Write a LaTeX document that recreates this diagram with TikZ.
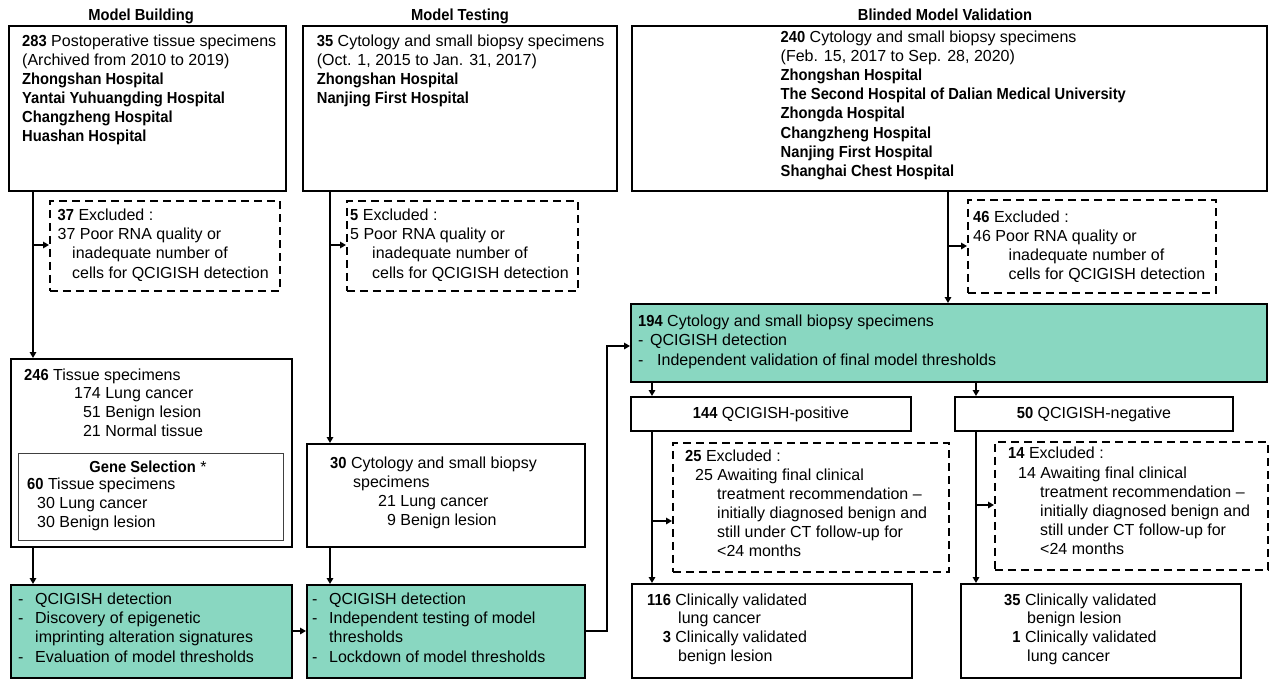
\documentclass[tikz,border=0pt]{standalone}
\usepackage{fontspec}
\setmainfont{Liberation Sans}[BoldFeatures={FakeStretch=0.92}]
\usetikzlibrary{arrows.meta}
\definecolor{mint}{RGB}{137,215,193}
\newcommand\tstr{\rule{0pt}{14pt}}
\begin{document}
\begin{tikzpicture}[x=1pt,y=-1pt,
  every node/.style={font=\fontsize{16}{19}\selectfont},
  box/.style={draw, line width=2pt, inner sep=0pt, anchor=north west},
  dbox/.style={draw, line width=1.8pt, dash pattern=on 8pt off 5pt, inner sep=0pt, anchor=north west},
  gbox/.style={box, fill=mint},
  thinbox/.style={draw=black!75, line width=1pt, inner sep=0pt, anchor=north west},
  txt/.style={inner sep=0pt, anchor=north west, align=left, execute at begin node=\tstr},
  hdr/.style={inner sep=0pt, anchor=base, font=\fontsize{16}{19}\selectfont\bfseries},
  ctr/.style={inner sep=0pt, anchor=base},
  ln/.style={line width=1.7pt},
  arr/.style={ln, -{Triangle[length=6pt,width=6.5pt]}},
]
\fill[white] (0,0) rectangle (1270,680);
\useasboundingbox (0,0) rectangle (1270,680);

% headers
\node[hdr] (hMB) at (141,20.5) {Model Building};
\node[hdr] (hMT) at (460,20.5) {Model Testing};
\node[hdr] (hBV) at (945,20.5) {Blinded Model Validation};

% boxes
\node[box, minimum width=277, minimum height=165] (b1) at (8,25) {};
\node[box, minimum width=314, minimum height=165] (b2) at (302,25) {};
\node[box, minimum width=635, minimum height=165] (b3) at (631,25) {};
\node[dbox, minimum width=230, minimum height=90] (d1) at (49,200) {};
\node[dbox, minimum width=231, minimum height=90] (d2) at (346,200) {};
\node[dbox, minimum width=248, minimum height=93] (d3) at (967,199) {};
\node[box, minimum width=281, minimum height=188] (b246) at (10,358) {};
\node[thinbox, minimum width=265, minimum height=87] (gs) at (18,453) {};
\node[box, minimum width=278, minimum height=103] (b30) at (306,443) {};
\node[gbox, minimum width=281, minimum height=93] (g1) at (10,584) {};
\node[gbox, minimum width=278, minimum height=93] (g2) at (306,584) {};
\node[gbox, minimum width=636, minimum height=78] (b194) at (630,303) {};
\node[box, minimum width=280, minimum height=34, anchor=center] (b144) at (771,414) {\textbf{144} QCIGISH-positive};
\node[box, minimum width=278, minimum height=34, anchor=center] (b50) at (1094,414) {\textbf{50} QCIGISH-negative};
\node[dbox, minimum width=276, minimum height=129] (d4) at (672,442) {};
\node[dbox, minimum width=273, minimum height=128] (d5) at (994,441) {};
\node[box, minimum width=280, minimum height=94] (b116) at (631,583) {};
\node[box, minimum width=280, minimum height=94] (b35) at (960,583) {};

% texts
\node[txt] (t1) at (22,34.8) {\textbf{283} Postoperative tissue specimens\\(Archived from 2010 to 2019)\\\textbf{Zhongshan Hospital}\\\textbf{Yantai Yuhuangding Hospital}\\\textbf{Changzheng Hospital}\\\textbf{Huashan Hospital}};
\node[txt] (t2) at (316.7,34.8) {\textbf{35} Cytology and small biopsy specimens\\(Oct. 1, 2015 to Jan. 31, 2017)\\\textbf{Zhongshan Hospital}\\\textbf{Nanjing First Hospital}};
\node[txt, font=\fontsize{16}{19.1}\selectfont] (t3) at (780.5,30.8) {\textbf{240} Cytology and small biopsy specimens\\(Feb. 15, 2017 to Sep. 28, 2020)\\\textbf{Zhongshan Hospital}\\\textbf{The Second Hospital of Dalian Medical University}\\\textbf{Zhongda Hospital}\\\textbf{Changzheng Hospital}\\\textbf{Nanjing First Hospital}\\\textbf{Shanghai Chest Hospital}};
\node[txt, font=\fontsize{16}{19.3}\selectfont] (td1) at (57.5,208.5) {\textbf{37} Excluded :\\37 Poor RNA quality or\\\hspace*{14.5pt}inadequate number of\\\hspace*{14.5pt}cells for QCIGISH detection};
\node[txt, font=\fontsize{16}{19.3}\selectfont] (td2) at (350,208.5) {\textbf{5} Excluded :\\5 Poor RNA quality or\\\hspace*{22pt}inadequate number of\\\hspace*{22pt}cells for QCIGISH detection};
\node[txt] (td3) at (973,210.5) {\textbf{46} Excluded :\\46 Poor RNA quality or\\\hspace*{35.5pt}inadequate number of\\\hspace*{35.5pt}cells for QCIGISH detection};
\node[txt, font=\fontsize{16}{18.7}\selectfont] (t246) at (24,368.5) {\textbf{246} Tissue specimens\\\hspace*{50pt}174 Lung cancer\\\hspace*{50pt}\phantom{1}51 Benign lesion\\\hspace*{50pt}\phantom{1}21 Normal tissue};
\node[ctr] (gsh) at (148,472.5) {\textbf{Gene Selection} *};
\node[txt] (tgs) at (27,478.2) {\textbf{60} Tissue specimens\\\hspace*{10pt}30 Lung cancer\\\hspace*{10pt}30 Benign lesion};
\node[txt, font=\fontsize{16}{19.2}\selectfont] (t30) at (330,456.5) {\textbf{30} Cytology and small biopsy\\\hspace*{23pt}specimens\\\hspace*{48pt}21 Lung cancer\\\hspace*{48pt}\phantom{2}9 Benign lesion};
\node[txt, font=\fontsize{16}{19.5}\selectfont] (tg1) at (18,592.2) {\makebox[17pt][l]{-}QCIGISH detection\\\makebox[17pt][l]{-}Discovery of epigenetic\\\hspace*{17pt}imprinting alteration signatures\\\makebox[17pt][l]{-}Evaluation of model thresholds};
\node[txt, font=\fontsize{16}{19.5}\selectfont] (tg2) at (312,592.2) {\makebox[17pt][l]{-}QCIGISH detection\\\makebox[17pt][l]{-}Independent testing of model\\\hspace*{17pt}thresholds\\\makebox[17pt][l]{-}Lockdown of model thresholds};
\node[txt, font=\fontsize{16}{19.5}\selectfont] (t194) at (638,314.5) {\textbf{194} Cytology and small biopsy specimens\\\makebox[12pt][l]{-}QCIGISH detection\\\makebox[19pt][l]{-}Independent validation of final model thresholds};
\node[txt] (td4) at (685,449.5) {\textbf{25} Excluded :\\\hspace*{10pt}25 Awaiting final clinical\\\hspace*{32pt}treatment recommendation –\\\hspace*{32pt}initially diagnosed benign and\\\hspace*{32pt}still under CT follow-up for\\\hspace*{32pt}<24 months};
\node[txt, font=\fontsize{16}{19.2}\selectfont] (td5) at (1008,447.2) {\textbf{14} Excluded :\\\hspace*{10pt}14 Awaiting final clinical\\\hspace*{32pt}treatment recommendation –\\\hspace*{32pt}initially diagnosed benign and\\\hspace*{32pt}still under CT follow-up for\\\hspace*{32pt}<24 months};
\node[txt] (t116) at (647,593.2) {\textbf{116} Clinically validated\\\hspace*{31pt}lung cancer\\\phantom{\textbf{11}}\textbf{3} Clinically validated\\\hspace*{31pt}benign lesion};
\node[txt] (t35) at (1004,593.2) {\textbf{35} Clinically validated\\\hspace*{23pt}benign lesion\\\phantom{\textbf{3}}\textbf{1} Clinically validated\\\hspace*{23pt}lung cancer};

% junctions
\coordinate (j1) at (33,245);
\coordinate (j2) at (330,245);
\coordinate (j3) at (300,631);
\coordinate (j4) at (607,631);
\coordinate (j5) at (607,346);
\coordinate (j6) at (948,246);
\coordinate (j7) at (652,521);
\coordinate (j8) at (976,505);

% connectors
\draw[arr] (b1.south -| j1) -- (b246.north -| j1);
\draw[arr] (j1) -- (d1.west |- j1);
\draw[arr] (b246.south -| j1) -- (g1.north -| j1);
\draw[arr] (b2.south -| j2) -- (b30.north -| j2);
\draw[arr] (j2) -- (d2.west |- j2);
\draw[arr] (b30.south -| j2) -- (g2.north -| j2);
\draw[arr] (g1.east |- j3) -- (g2.west |- j3);
\draw[arr] (g2.east |- j4) -- (j4) -- (j5) -- (b194.west |- j5);
\draw[arr] (b3.south -| j6) -- (b194.north -| j6);
\draw[arr] (j6) -- (d3.west |- j6);
\draw[arr] (b194.south -| j7) -- (b144.north -| j7);
\draw[arr] (b194.south -| j8) -- (b50.north -| j8);
\draw[arr] (b144.south -| j7) -- (b116.north -| j7);
\draw[arr] (j7) -- (d4.west |- j7);
\draw[arr] (b50.south -| j8) -- (b35.north -| j8);
\draw[arr] (j8) -- (d5.west |- j8);
\end{tikzpicture}
\end{document}
